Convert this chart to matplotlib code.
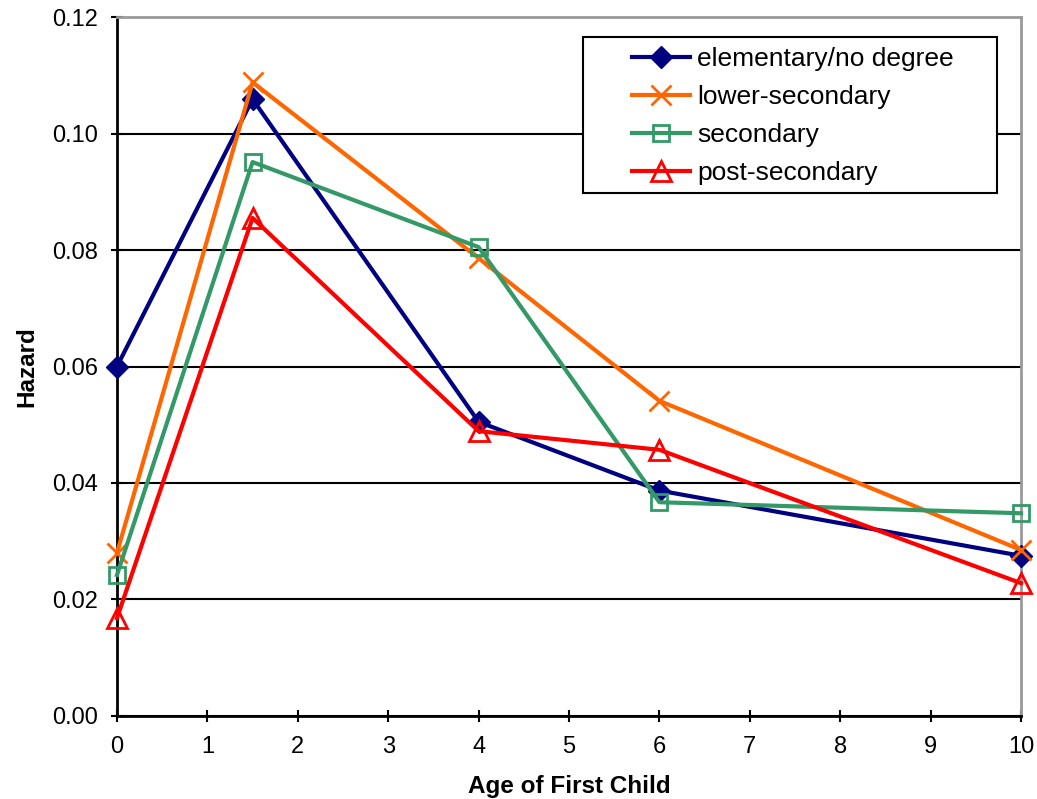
import matplotlib.pyplot as plt
from matplotlib.patches import Rectangle

plt.rcParams['font.family'] = ['Liberation Sans', 'DejaVu Sans']

age = [0, 1.5, 4, 6, 10]
elementary = [0.0600, 0.1059, 0.0505, 0.0387, 0.0275]
lower_secondary = [0.0280, 0.1088, 0.0786, 0.0541, 0.0285]
secondary = [0.0242, 0.0951, 0.0805, 0.0367, 0.0348]
post_secondary = [0.0168, 0.0855, 0.0489, 0.0457, 0.0228]

fig = plt.figure(figsize=(10.37, 7.99), dpi=100)
ax = fig.add_axes([0.1128, 0.1039, 0.8718, 0.8748])

ax.plot(age, elementary, color='#000080', lw=3, marker='D', ms=11,
        label='elementary/no degree', clip_on=False, zorder=3)
ax.plot(age, lower_secondary, color='#ff6600', lw=3, marker='x', ms=14, mew=2,
        label='lower-secondary', clip_on=False, zorder=3)
ax.plot(age, secondary, color='#339966', lw=3, marker='s', ms=12, mew=2, mfc='none',
        label='secondary', clip_on=False, zorder=3)
ax.plot(age, post_secondary, color='#ff0000', lw=3, marker='^', ms=15, mew=2, mfc='none',
        label='post-secondary', clip_on=False, zorder=3)

ax.set_xlim(0, 10)
ax.set_ylim(0, 0.12)
ax.set_xticks(range(11))
ax.set_yticks([0, 0.02, 0.04, 0.06, 0.08, 0.10, 0.12])
ax.set_yticklabels(['%.2f' % v for v in [0, 0.02, 0.04, 0.06, 0.08, 0.10, 0.12]])
ax.yaxis.grid(True, color='black', lw=1.5)
ax.set_axisbelow(True)
ax.tick_params(labelsize=17, direction='inout', length=9, width=1.5)
ax.tick_params(axis='x', pad=10)
ax.tick_params(axis='y', pad=9)

for s in ['top', 'right']:
    ax.spines[s].set_color('#999999')
    ax.spines[s].set_linewidth(2)
for s in ['left', 'bottom']:
    ax.spines[s].set_linewidth(2)

ax.set_xlabel('Age of First Child', fontsize=17.5, fontweight='bold', labelpad=12)
ax.set_ylabel('Hazard', fontsize=17.5, fontweight='bold', labelpad=10)

# legend frame drawn separately, Excel style (wider padding on the sides)
box = Rectangle((0.5155, 0.748), 0.458, 0.2234, transform=ax.transAxes,
                facecolor='white', edgecolor='black', lw=1.5, zorder=4, clip_on=False)
ax.add_patch(box)

leg = ax.legend(loc='upper left', bbox_to_anchor=(0.5697, 0.957), fontsize=19,
                frameon=False, handlelength=2.2, handletextpad=0.27, borderpad=0,
                labelspacing=0.53, borderaxespad=0)
leg.set_zorder(5)

fig.savefig('out.png', dpi=100)
